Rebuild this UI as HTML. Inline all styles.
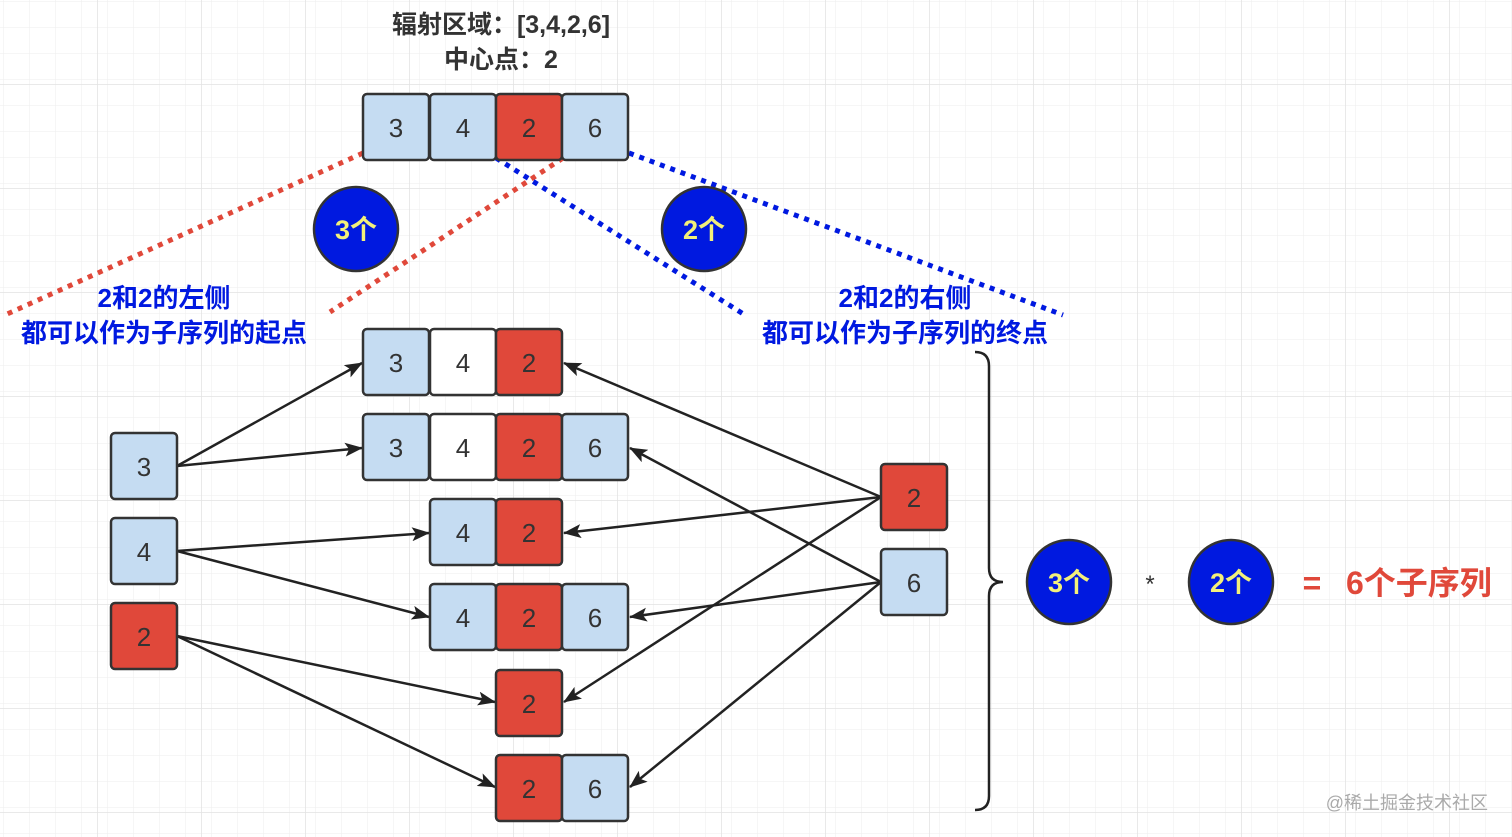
<!DOCTYPE html>
<html><head><meta charset="utf-8"><style>
body{margin:0;background:#fff;}
svg{display:block;font-family:"Liberation Sans","Noto Sans CJK SC",sans-serif;}
</style></head><body>
<svg width="1512" height="837" viewBox="0 0 1512 837" xmlns="http://www.w3.org/2000/svg">
<defs>
<pattern id="minor" width="26" height="26" patternUnits="userSpaceOnUse" x="4" y="2">
<path d="M26 0V26M0 26H26" fill="none" stroke="#eeeeee" stroke-width="1"/></pattern>
<pattern id="major" width="104" height="104" patternUnits="userSpaceOnUse" x="-6" y="-19">
<path d="M104 0V104M0 104H104" fill="none" stroke="#e2e2e2" stroke-width="1.5"/></pattern>
<marker id="ah" markerWidth="18" markerHeight="14" refX="17" refY="7" orient="auto" markerUnits="userSpaceOnUse">
<path d="M0 0L18 7L0 14L4 7Z" fill="#222"/></marker>
</defs>
<rect width="1512" height="837" fill="url(#minor)"/>
<rect width="1512" height="837" fill="url(#major)"/>

<g font-size="25" fill="#333" text-anchor="middle" font-weight="bold">
<text x="501" y="33">辐射区域：[3,4,2,6]</text>
<text x="501" y="68">中心点：2</text>
</g>

<g stroke-dasharray="5 6" stroke-width="5" fill="none">
<line x1="363" y1="153" x2="5" y2="315" stroke="#e0483a"/>
<line x1="563" y1="158" x2="330" y2="312" stroke="#e0483a"/>
<line x1="496" y1="158" x2="745" y2="315" stroke="#0019e0"/>
<line x1="629" y1="153" x2="1063" y2="315" stroke="#0019e0"/>
</g>

<g stroke="#222" stroke-width="2.5" marker-end="url(#ah)">
<line x1="177" y1="466" x2="362" y2="363"/>
<line x1="177" y1="466" x2="362" y2="448"/>
<line x1="177" y1="551" x2="429" y2="533"/>
<line x1="177" y1="551" x2="429" y2="617"/>
<line x1="177" y1="636" x2="495" y2="702"/>
<line x1="177" y1="636" x2="495" y2="787"/>
<line x1="881" y1="497" x2="564" y2="363"/>
<line x1="881" y1="497" x2="564" y2="533"/>
<line x1="881" y1="497" x2="564" y2="702"/>
<line x1="881" y1="582" x2="630" y2="448"/>
<line x1="881" y1="582" x2="630" y2="617"/>
<line x1="881" y1="582" x2="630" y2="787"/>
</g>

<g stroke="#333" stroke-width="2.5" font-size="26" text-anchor="middle">
<g><rect x="363" y="94" width="66" height="66" rx="4" fill="#c5dcf2"/><text x="396" y="137" fill="#333" stroke="none">3</text></g>
<g><rect x="430" y="94" width="66" height="66" rx="4" fill="#c5dcf2"/><text x="463" y="137" fill="#333" stroke="none">4</text></g>
<g><rect x="496" y="94" width="66" height="66" rx="4" fill="#e0483a"/><text x="529" y="137" fill="#333" stroke="none">2</text></g>
<g><rect x="562" y="94" width="66" height="66" rx="4" fill="#c5dcf2"/><text x="595" y="137" fill="#333" stroke="none">6</text></g>
<g><rect x="363" y="329" width="66" height="66" rx="4" fill="#c5dcf2"/><text x="396" y="372" fill="#333" stroke="none">3</text></g>
<g><rect x="430" y="329" width="66" height="66" rx="4" fill="#fff"/><text x="463" y="372" fill="#333" stroke="none">4</text></g>
<g><rect x="496" y="329" width="66" height="66" rx="4" fill="#e0483a"/><text x="529" y="372" fill="#333" stroke="none">2</text></g>
<g><rect x="363" y="414" width="66" height="66" rx="4" fill="#c5dcf2"/><text x="396" y="457" fill="#333" stroke="none">3</text></g>
<g><rect x="430" y="414" width="66" height="66" rx="4" fill="#fff"/><text x="463" y="457" fill="#333" stroke="none">4</text></g>
<g><rect x="496" y="414" width="66" height="66" rx="4" fill="#e0483a"/><text x="529" y="457" fill="#333" stroke="none">2</text></g>
<g><rect x="562" y="414" width="66" height="66" rx="4" fill="#c5dcf2"/><text x="595" y="457" fill="#333" stroke="none">6</text></g>
<g><rect x="430" y="499" width="66" height="66" rx="4" fill="#c5dcf2"/><text x="463" y="542" fill="#333" stroke="none">4</text></g>
<g><rect x="496" y="499" width="66" height="66" rx="4" fill="#e0483a"/><text x="529" y="542" fill="#333" stroke="none">2</text></g>
<g><rect x="430" y="584" width="66" height="66" rx="4" fill="#c5dcf2"/><text x="463" y="627" fill="#333" stroke="none">4</text></g>
<g><rect x="496" y="584" width="66" height="66" rx="4" fill="#e0483a"/><text x="529" y="627" fill="#333" stroke="none">2</text></g>
<g><rect x="562" y="584" width="66" height="66" rx="4" fill="#c5dcf2"/><text x="595" y="627" fill="#333" stroke="none">6</text></g>
<g><rect x="496" y="670" width="66" height="66" rx="4" fill="#e0483a"/><text x="529" y="713" fill="#333" stroke="none">2</text></g>
<g><rect x="496" y="755" width="66" height="66" rx="4" fill="#e0483a"/><text x="529" y="798" fill="#333" stroke="none">2</text></g>
<g><rect x="562" y="755" width="66" height="66" rx="4" fill="#c5dcf2"/><text x="595" y="798" fill="#333" stroke="none">6</text></g>
<g><rect x="111" y="433" width="66" height="66" rx="4" fill="#c5dcf2"/><text x="144" y="476" fill="#333" stroke="none">3</text></g>
<g><rect x="111" y="518" width="66" height="66" rx="4" fill="#c5dcf2"/><text x="144" y="561" fill="#333" stroke="none">4</text></g>
<g><rect x="111" y="603" width="66" height="66" rx="4" fill="#e0483a"/><text x="144" y="646" fill="#333" stroke="none">2</text></g>
<g><rect x="881" y="464" width="66" height="66" rx="4" fill="#e0483a"/><text x="914" y="507" fill="#333" stroke="none">2</text></g>
<g><rect x="881" y="549" width="66" height="66" rx="4" fill="#c5dcf2"/><text x="914" y="592" fill="#333" stroke="none">6</text></g>
</g>

<g stroke="#333" stroke-width="2.5" fill="#0019e0">
<circle cx="356" cy="229" r="42"/>
<circle cx="704" cy="229" r="42"/>
<circle cx="1069" cy="582" r="42"/>
<circle cx="1231" cy="582" r="42"/>
</g>
<g fill="#f3f07a" font-size="27" text-anchor="middle" font-weight="bold">
<text x="356" y="239">3个</text>
<text x="704" y="239">2个</text>
<text x="1069" y="592">3个</text>
<text x="1231" y="592">2个</text>
</g>

<g fill="#0019e0" font-size="26" text-anchor="middle" font-weight="bold">
<text x="164" y="307">2和2的左侧</text>
<text x="164" y="342">都可以作为子序列的起点</text>
<text x="905" y="307">2和2的右侧</text>
<text x="905" y="342">都可以作为子序列的终点</text>
</g>

<path d="M975 352 Q989 352 989 366 V568 Q989 582 1003 582 Q989 582 989 596 V796 Q989 810 975 810" fill="none" stroke="#222" stroke-width="2.5"/>

<text x="1150" y="592" font-size="24" fill="#333" text-anchor="middle">*</text>
<text x="1312" y="594" font-size="32" fill="#e0483a" text-anchor="middle" font-weight="bold">=</text>
<text x="1346" y="594" font-size="32" fill="#e0483a" font-weight="bold">6个子序列</text>
<text x="1488" y="809" font-size="18" fill="#aaa" text-anchor="end">@稀土掘金技术社区</text>
</svg>
</body></html>
